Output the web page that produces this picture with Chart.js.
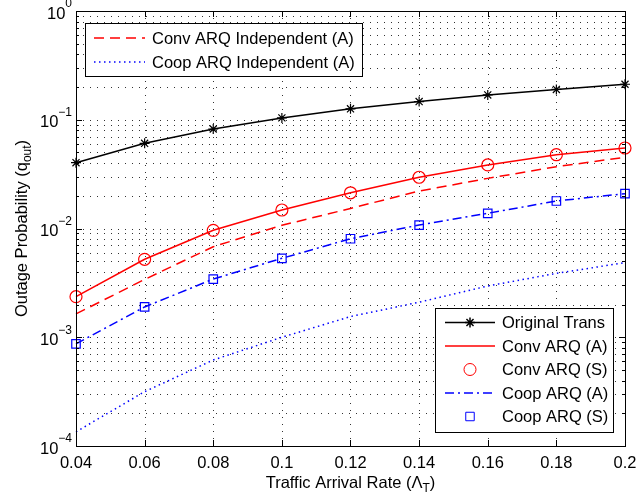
<!DOCTYPE html>
<html>
<head>
<meta charset="utf-8">
<script src="https://cdn.jsdelivr.net/npm/chart.js@4.4.1/dist/chart.umd.min.js"></script>
<style>
html, body { margin: 0; padding: 0; background: #fff; }
#wrap { width: 637px; height: 496px; }
</style>
</head>
<body>
<div id="wrap"><canvas id="outageChart"></canvas></div>
<script>
// values
const trafficRates = [0.04, 0.06, 0.08, 0.1, 0.12, 0.14, 0.16, 0.18, 0.2];
const xTickValues = [0.04, 0.06, 0.08, 0.1, 0.12, 0.14, 0.16, 0.18, 0.2];
const xTickLabels = ['0.04', '0.06', '0.08', '0.1', '0.12', '0.14', '0.16', '0.18', '0.2'];
const yDecades = [-4, -3, -2, -1, 0];

const originalTrans = [0.0403, 0.0607, 0.0822, 0.104, 0.126, 0.147, 0.169, 0.19, 0.212];
const convArqA = [0.00236, 0.00521, 0.00962, 0.0148, 0.0213, 0.0296, 0.0384, 0.0477, 0.055];
const convArqS = [0.00236, 0.00521, 0.00962, 0.0148, 0.0213, 0.0296, 0.0384, 0.0477, 0.055];
const convArqIndep = [0.00164, 0.0034, 0.0068, 0.0107, 0.0153, 0.0221, 0.0289, 0.037, 0.0452];
const coopArqA = [0.00087, 0.0019, 0.00343, 0.00532, 0.00805, 0.01076, 0.0138, 0.0179, 0.0209];
const coopArqS = [0.00087, 0.0019, 0.00343, 0.00532, 0.00805, 0.01076, 0.0138, 0.0179, 0.0209];
const coopArqIndep = [0.000135, 0.000316, 0.000618, 0.001, 0.00155, 0.0021, 0.00296, 0.00387, 0.00485];

const FONT = '"Liberation Sans", Arial, sans-serif';
const BIG = '16.5px ';
const SMALL = '12px ';
const RED = '#ff0000';
const BLUE = '#0000ff';

const pts = (vals) => vals.map((v, i) => ({ x: trafficRates[i], y: v }));

const series = {
    orig:   { label: 'Original Trans', color: '#000', dash: [], line: true, point: 'star', r: 5 },
    convA:  { label: 'Conv ARQ (A)', color: RED, dash: [], line: true, point: false },
    convS:  { label: 'Conv ARQ (S)', color: RED, dash: [], line: false, point: 'circle', r: 6 },
    coopA:  { label: 'Coop ARQ (A)', color: BLUE, dash: [9, 4, 2, 4], line: true, point: false },
    coopS:  { label: 'Coop ARQ (S)', color: BLUE, dash: [], line: false, point: 'rect', r: 6 },
    convI:  { label: 'Conv ARQ Independent (A)', color: RED, dash: [10, 6], line: true, point: false },
    coopI:  { label: 'Coop ARQ Independent (A)', color: BLUE, dash: [1.5, 3.5], line: true, point: false }
};

function makeDataset(s, vals) {
    return {
        label: s.label,
        data: pts(vals),
        borderColor: s.color,
        backgroundColor: 'transparent',
        borderWidth: 1.5,
        borderDash: s.dash,
        showLine: s.line,
        pointStyle: s.point || 'circle',
        pointRadius: s.point ? s.r : 0,
        pointBorderColor: s.color,
        pointBackgroundColor: 'transparent',
        pointBorderWidth: 1.2,
        tension: 0,
        clip: false
    };
}

// "10" with a raised exponent, right aligned
function drawSupLabel(ctx, base, exp, rightX, y) {
    ctx.font = BIG + FONT;
    const bw = ctx.measureText(base).width;
    ctx.font = SMALL + FONT;
    const ew = ctx.measureText(exp).width;
    ctx.textAlign = 'left';
    ctx.textBaseline = 'middle';
    ctx.font = BIG + FONT;
    ctx.fillText(base, rightX - ew - bw, y + 3);
    ctx.font = SMALL + FONT;
    ctx.fillText(exp, rightX - ew, y - 7);
}

function drawSubText(ctx, parts, cx, cy) {
    let total = 0;
    parts.forEach(p => {
        ctx.font = (p[1] ? SMALL : BIG) + FONT;
        total += ctx.measureText(p[0]).width;
    });
    let x = cx - total / 2;
    ctx.textAlign = 'left';
    ctx.textBaseline = 'middle';
    parts.forEach(p => {
        ctx.font = (p[1] ? SMALL : BIG) + FONT;
        ctx.fillText(p[0], x, cy + (p[1] ? 6 : 0));
        x += ctx.measureText(p[0]).width;
    });
}

function drawLegendEntry(ctx, s, x0, x1, y, textX) {
    ctx.save();
    if (s.line) {
        ctx.strokeStyle = s.color;
        ctx.lineWidth = 1.5;
        ctx.setLineDash(s.dash);
        ctx.beginPath();
        ctx.moveTo(x0, y);
        ctx.lineTo(x1, y);
        ctx.stroke();
    }
    ctx.setLineDash([]);
    if (s.point) {
        ctx.strokeStyle = s.color;
        ctx.fillStyle = 'transparent';
        Chart.helpers.drawPoint(ctx, { pointStyle: s.point, radius: s.r, rotation: 0, borderWidth: 1.2 }, (x0 + x1) / 2, y);
    }
    ctx.fillStyle = '#000';
    ctx.font = BIG + FONT;
    ctx.textAlign = 'left';
    ctx.textBaseline = 'middle';
    ctx.fillText(s.label, textX, y + 1);
    ctx.restore();
}

const matlabAxes = {
    id: 'matlabAxes',
    beforeDatasetsDraw(chart) {
        const { ctx, chartArea: a, scales: { x, y } } = chart;
        ctx.save();
        ctx.strokeStyle = '#333';
        ctx.lineWidth = 1;
        ctx.setLineDash([1, 6]);
        xTickValues.forEach(v => {
            const px = Math.round(x.getPixelForValue(v)) + 0.5;
            ctx.beginPath(); ctx.moveTo(px, a.top); ctx.lineTo(px, a.bottom); ctx.stroke();
        });
        yDecades.forEach(d => {
            for (let m = 1; m <= 9; m++) {
                const v = m * Math.pow(10, d);
                if (v > 1.0001) break;
                const py = Math.round(y.getPixelForValue(v)) + 0.5;
                ctx.beginPath(); ctx.moveTo(a.left, py); ctx.lineTo(a.right, py); ctx.stroke();
            }
        });
        ctx.restore();
    },
    afterDatasetsDraw(chart) {
        const { ctx, chartArea: a, scales: { x, y } } = chart;
        ctx.save();
        ctx.strokeStyle = '#000';
        ctx.lineWidth = 1;
        ctx.setLineDash([]);
        ctx.strokeRect(a.left + 0.5, a.top + 0.5, a.right - a.left, a.bottom - a.top);

        // tick marks, inside the box
        ctx.beginPath();
        xTickValues.forEach(v => {
            const px = Math.round(x.getPixelForValue(v)) + 0.5;
            ctx.moveTo(px, a.bottom); ctx.lineTo(px, a.bottom - 6);
            ctx.moveTo(px, a.top); ctx.lineTo(px, a.top + 6);
        });
        yDecades.forEach(d => {
            for (let m = 1; m <= 9; m++) {
                const v = m * Math.pow(10, d);
                if (v > 1.0001) break;
                const py = Math.round(y.getPixelForValue(v)) + 0.5;
                const len = m === 1 ? 6 : 3;
                ctx.moveTo(a.left, py); ctx.lineTo(a.left + len, py);
                ctx.moveTo(a.right, py); ctx.lineTo(a.right - len, py);
            }
        });
        ctx.stroke();

        // tick labels
        ctx.fillStyle = '#000';
        ctx.font = BIG + FONT;
        ctx.textAlign = 'center';
        ctx.textBaseline = 'middle';
        xTickValues.forEach((v, i) => {
            ctx.fillText(xTickLabels[i], x.getPixelForValue(v), a.bottom + 17);
        });
        yDecades.forEach(d => {
            const exp = d === 0 ? '0' : '\u2212' + Math.abs(d);
            drawSupLabel(ctx, '10', exp, a.left - 4, y.getPixelForValue(Math.pow(10, d)));
        });

        // axis titles
        drawSubText(ctx, [['Traffic Arrival Rate (\u039B', false], ['T', true], [')', false]], (a.left + a.right) / 2, a.bottom + 37);
        ctx.save();
        ctx.translate(22, (a.top + a.bottom) / 2);
        ctx.rotate(-Math.PI / 2);
        drawSubText(ctx, [['Outage Probability (q', false], ['out', true], [')', false]], 0, 0);
        ctx.restore();

        // legend boxes
        ctx.fillStyle = '#fff';
        ctx.fillRect(85, 23, 277, 53);
        ctx.strokeRect(85.5, 23.5, 277, 53);
        drawLegendEntry(ctx, series.convI, 94, 145, 38, 152);
        drawLegendEntry(ctx, series.coopI, 94, 145, 62, 152);

        ctx.fillStyle = '#fff';
        ctx.fillRect(435, 308, 178, 124);
        ctx.strokeStyle = '#000';
        ctx.strokeRect(435.5, 308.5, 178, 124);
        const rows = [series.orig, series.convA, series.convS, series.coopA, series.coopS];
        rows.forEach((s, i) => drawLegendEntry(ctx, s, 445, 495, 322.5 + i * 23.5, 502));
        ctx.restore();
    }
};

new Chart(document.getElementById('outageChart'), {
    type: 'line',
    data: {
        datasets: [
            makeDataset(series.convI, convArqIndep),
            makeDataset(series.coopI, coopArqIndep),
            makeDataset(series.coopA, coopArqA),
            makeDataset(series.coopS, coopArqS),
            makeDataset(series.convA, convArqA),
            makeDataset(series.convS, convArqS),
            makeDataset(series.orig, originalTrans)
        ]
    },
    options: {
        responsive: true,
        maintainAspectRatio: false,
        animation: false,
        layout: { padding: { left: 76, top: 11, right: 12, bottom: 50 } },
        scales: {
            x: { type: 'linear', min: 0.04, max: 0.2, display: false },
            y: { type: 'logarithmic', min: 0.0001, max: 1, display: false }
        },
        plugins: {
            legend: { display: false },
            tooltip: { enabled: false }
        }
    },
    plugins: [matlabAxes]
});
</script>
</body>
</html>
